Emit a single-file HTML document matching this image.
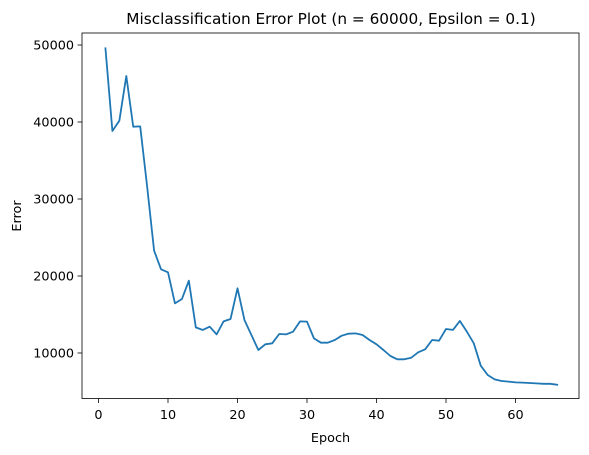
<!DOCTYPE html>
<html><head><meta charset="utf-8"><style>
body{margin:0;background:#fff}
svg{display:block;font-family:"DejaVu Sans","Liberation Sans",sans-serif}
</style></head><body>
<svg id="chart" width="589" height="455">
<rect x="0" y="0" width="589" height="455" fill="#fff"/>
<text x="331" y="24" text-anchor="middle" font-size="15.3" fill="#000">Misclassification Error Plot (n = 60000, Epsilon = 0.1)</text>
<g id="xt"></g><g id="yt"></g>
<path id="line" fill="none" stroke="#1f77b4" stroke-width="1.8" stroke-linejoin="round" stroke-linecap="square"/>
<rect x="82" y="33" width="497" height="365.5" fill="none" stroke="#000" stroke-width="0.8"/>
<text x="330.5" y="442" text-anchor="middle" font-size="12.8">Epoch</text>
<text transform="translate(21,216) rotate(-90)" text-anchor="middle" font-size="12.8">Error</text>
</svg>
<script>
const errors=[49570,38830,40170,45970,39390,39430,31600,23290,20870,20480,16450,17010,19390,13330,12990,13420,12420,14110,14420,18400,14290,12340,10390,11130,11260,12470,12420,12770,14110,14070,11900,11340,11340,11690,12250,12510,12550,12340,11690,11130,10390,9610,9180,9180,9390,10090,10480,11690,11600,13120,13000,14160,12770,11260,8350,7140,6580,6360,6280,6190,6150,6100,6060,6000,6000,5880];
const epochs=errors.map((_,i)=>i+1);
const xTicks=[0,10,20,30,40,50,60];
const yTicks=[10000,20000,30000,40000,50000];
const xs=e=>98.5+(e-0)*6.95;
const ys=v=>353-(v-10000)*0.0077;
const NS="http://www.w3.org/2000/svg";
document.getElementById('line').setAttribute('d',epochs.map((e,i)=>(i?'L':'M')+xs(e).toFixed(2)+','+ys(errors[i]).toFixed(2)).join(''));
const xt=document.getElementById('xt'),yt=document.getElementById('yt');
xTicks.forEach(t=>{
 const l=document.createElementNS(NS,'line');
 l.setAttribute('x1',xs(t));l.setAttribute('x2',xs(t));l.setAttribute('y1',398.5);l.setAttribute('y2',403);l.setAttribute('stroke','#000');l.setAttribute('stroke-width','0.8');
 
 
 xt.appendChild(l);
 const tx=document.createElementNS(NS,'text');
 tx.setAttribute('x',xs(t));tx.setAttribute('y',419);tx.setAttribute('text-anchor','middle');tx.setAttribute('font-size','12.8');tx.textContent=t;
 
 
 xt.appendChild(tx);
});
yTicks.forEach(t=>{
 const l=document.createElementNS(NS,'line');
 l.setAttribute('x1',77.5);l.setAttribute('x2',82);l.setAttribute('y1',ys(t));l.setAttribute('y2',ys(t));l.setAttribute('stroke','#000');l.setAttribute('stroke-width','0.8');
 
 
 yt.appendChild(l);
 const tx=document.createElementNS(NS,'text');
 tx.setAttribute('x',74);tx.setAttribute('y',ys(t)+4.6);tx.setAttribute('text-anchor','end');tx.setAttribute('font-size','12.8');tx.textContent=t;
 
 
 yt.appendChild(tx);
});
</script>
</body></html>
